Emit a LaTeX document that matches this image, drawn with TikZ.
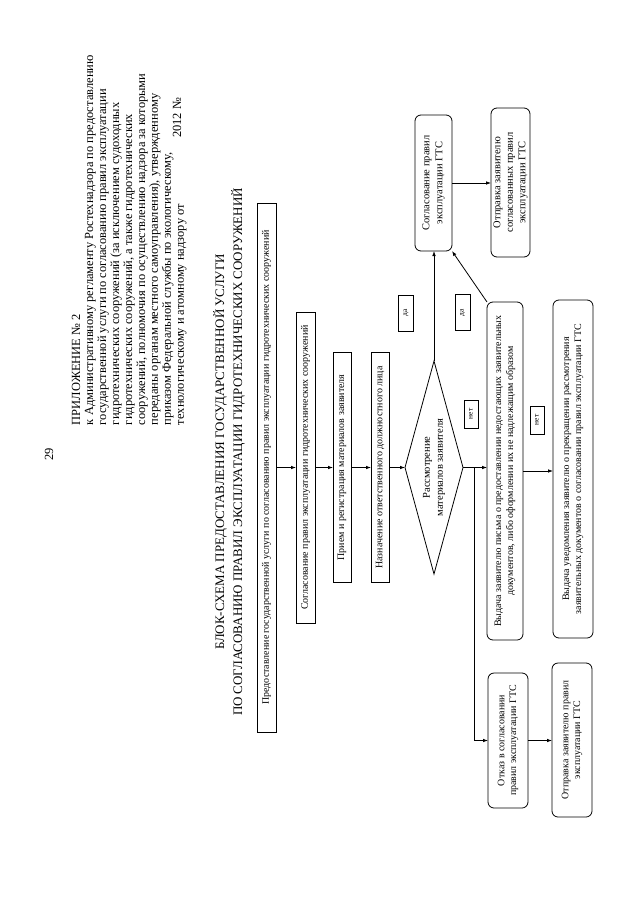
\documentclass[tikz,border=0pt]{standalone}
\usepackage{fontspec}
\setmainfont{Liberation Serif}
\usetikzlibrary{arrows.meta,shapes.geometric,calc}
\begin{document}
\begin{tikzpicture}[x=1bp,y=1bp,
  line width=0.8bp,
  every node/.style={inner sep=0pt, outer sep=0pt},
  vbox/.style={draw, rectangle, rotate=90, align=center, font=\fontsize{10}{11.5}\selectfont},
  rbox/.style={draw, rectangle, rounded corners=6bp, rotate=90, align=center, font=\fontsize{10}{12}\selectfont},
  lbl/.style={draw, rectangle, rotate=90, font=\fontsize{7.5}{9}\selectfont},
  arr/.style={-{Latex[length=5bp,width=3.6bp]}}
]
\useasboundingbox[fill=white] (0,0) rectangle (640,-905);

% header
\node[rotate=90, font=\fontsize{12.5}{14}\selectfont] (pnum) at (49,-454) {29};
\node[rotate=90, anchor=north west, align=left, font=\fontsize{12.5}{13}\selectfont] (hdr) at (72,-425)
 {ПРИЛОЖЕНИЕ № 2\\
  к Административному регламенту Ростехнадзора по предоставлению\\
  государственной услуги по согласованию правил эксплуатации\\
  гидротехнических сооружений (за исключением судоходных\\
  гидротехнических сооружений, а также гидротехнических\\
  сооружений, полномочия по осуществлению надзора за которыми\\
  переданы органам местного самоуправления), утвержденному\\
  приказом Федеральной службы по экологическому,\\
  технологическому и атомному надзору от};
\node[rotate=90, font=\fontsize{12.5}{13}\selectfont] (yr) at (177,-118) {2012 №};

% title
\node[rotate=90, align=center, font=\fontsize{13}{18}\selectfont] (title) at (229,-452)
 {БЛОК-СХЕМА ПРЕДОСТАВЛЕНИЯ ГОСУДАРСТВЕННОЙ УСЛУГИ\\
  ПО СОГЛАСОВАНИЮ ПРАВИЛ ЭКСПЛУАТАЦИИ ГИДРОТЕХНИЧЕСКИХ СООРУЖЕНИЙ};

% main column
\node[vbox, minimum width=529bp, minimum height=19bp] (b1) at (266.5,-467.5)
 {Предоставление государственной услуги по согласованию правил эксплуатации гидротехнических сооружений};
\node[vbox, minimum width=311bp, minimum height=19bp] (b2) at (305.5,-467.5)
 {Согласование правил эксплуатации гидротехнических сооружений};
\node[vbox, minimum width=230bp, minimum height=18bp] (b3) at (342,-467.5)
 {Прием и регистрация материалов заявителя};
\node[vbox, minimum width=230bp, minimum height=18bp] (b4) at (380,-467.5)
 {Назначение ответственного должностного лица};
\node[draw, diamond, rotate=90, shape aspect=3.7, minimum width=213bp, minimum height=58bp,
      align=center, font=\fontsize{10.5}{13}\selectfont] (dia) at (434,-467.5)
 {Рассмотрение\\материалов заявителя};

% right upper
\node[rbox, minimum width=136bp, minimum height=37bp, font=\fontsize{10.5}{13}\selectfont] (gts1) at (433.5,-183)
 {Согласование правил\\эксплуатации ГТС};
\node[rbox, minimum width=149bp, minimum height=39bp, font=\fontsize{10.5}{12.5}\selectfont] (gts2) at (510.5,-182.5)
 {Отправка заявителю\\согласованных правил\\эксплуатации ГТС};

% right middle
\node[rbox, minimum width=338bp, minimum height=36bp] (vyd1) at (505,-471)
 {Выдача заявителю письма о предоставлении недостающих заявительных\\документов, либо оформлении их не надлежащим образом};
\node[rbox, minimum width=338bp, minimum height=40bp] (vyd2) at (573,-469)
 {Выдача уведомления заявителю о прекращении рассмотрения\\заявительных документов о согласовании правил эксплуатации ГТС};

% right lower
\node[rbox, minimum width=135bp, minimum height=40bp] (otk) at (508,-740.5)
 {Отказ в согласовании\\правил эксплуатации ГТС};
\node[rbox, minimum width=154bp, minimum height=40bp] (otp) at (572,-740)
 {Отправка заявителю правил\\эксплуатации ГТС};

% labels
\node[lbl, minimum width=36bp, minimum height=15bp] (da1) at (406,-313) {да};
\node[lbl, minimum width=36bp, minimum height=15bp] (da2) at (462.5,-312.5) {да};
\node[lbl, minimum width=28bp, minimum height=14bp] (net1) at (471,-414) {нет};
\node[lbl, minimum width=28bp, minimum height=14bp] (net2) at (537,-420) {нет};

% connectors
\draw[arr] (b1.south) -- (b2.north);
\draw[arr] (b2.south) -- (b3.north);
\draw[arr] (b3.south) -- (b4.north);
\draw[arr] (b4.south) -- (dia.north);
\draw[arr] (dia.east) -- (dia.east |- gts1.west);
\draw[arr] (gts1.south) -- (gts1.south -| gts2.north);
\draw[arr] (dia.south) -- (dia.south -| vyd1.north);
\coordinate (br) at (474,-467.5);
\draw[arr] (br) |- (otk.north);
\draw[arr] (vyd1.south) -- (vyd1.south -| vyd2.north);
\draw[arr] (otk.south) -- (otk.south -| otp.north);
\draw[arr] (vyd1.north east) -- (gts1.south west);
\end{tikzpicture}
\end{document}
